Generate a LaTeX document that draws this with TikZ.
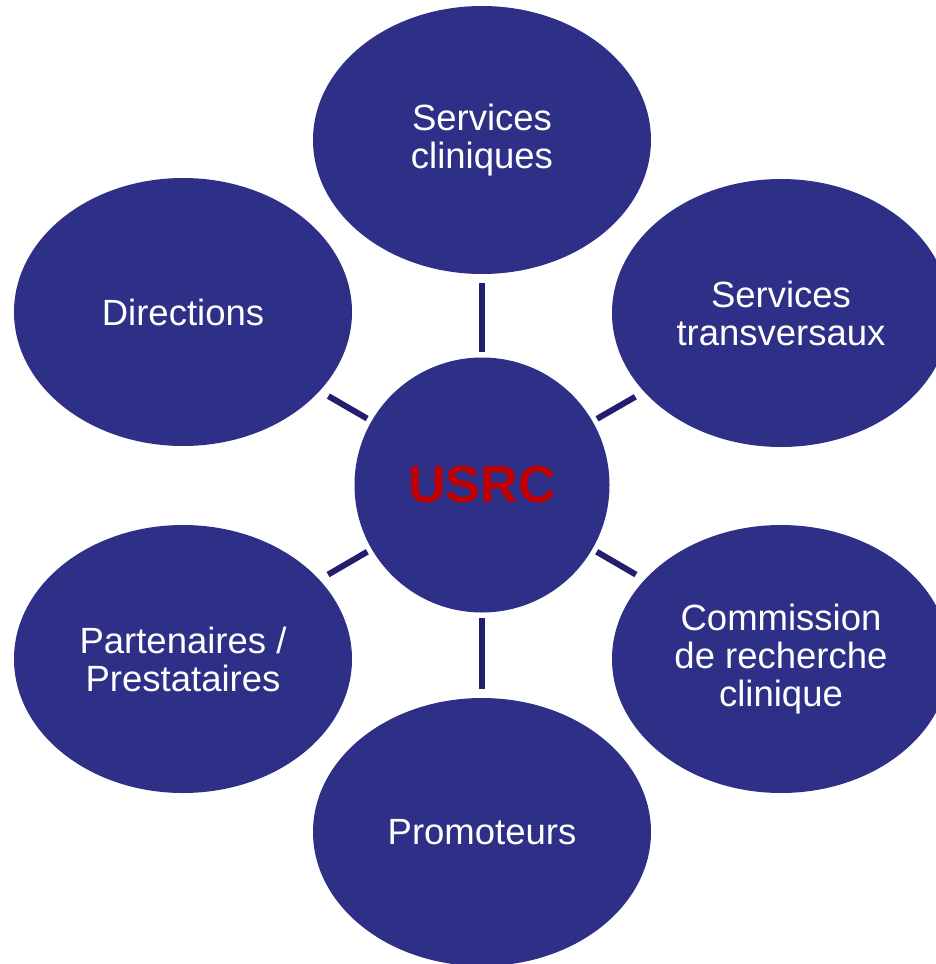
\documentclass[tikz,border=0pt]{standalone}
\usepackage{fontspec}
\setmainfont{Liberation Sans}
\usetikzlibrary{shapes.geometric}
\definecolor{navyfill}{HTML}{2E3087}
\definecolor{navyline}{HTML}{231F6E}
\definecolor{usrcred}{HTML}{C00000}
\tikzset{
  bubble/.style={ellipse, fill=navyfill, draw=none, inner sep=0pt,
    minimum width=338pt, minimum height=268pt, text=white, align=center,
    font=\fontsize{36.5pt}{38pt}\selectfont},
  hub/.style={circle, fill=navyfill, draw=none, inner sep=0pt,
    minimum size=255pt, text=usrcred, font=\fontsize{52pt}{54pt}\selectfont\bfseries},
  link/.style={draw=navyline, line width=6pt}
}
\begin{document}
\begin{tikzpicture}[x=1pt,y=-1pt]
\useasboundingbox (0,0) rectangle (936,964);
\begin{scope}
\clip (0,0) rectangle (936,964);
\node[hub] (c) at (482,485) {USRC};
\node[bubble] (t) at (482,140) {Services\\cliniques};
\node[bubble] (ru) at (781,313) {Services\\transversaux};
\node[bubble] (lu) at (183,312) {Directions};
\node[bubble] (ll) at (183,659) {Partenaires /\\Prestataires};
\node[bubble] (rl) at (781,659) {Commission\\de recherche\\clinique};
\node[bubble] (b) at (482,832) {Promoteurs};
\draw[link, shorten <=9pt, shorten >=5pt] (t) -- (c);
\draw[link, shorten <=9pt, shorten >=5pt] (b) -- (c);
\draw[link, shorten <=10pt, shorten >=5pt] (lu) -- (c);
\draw[link, shorten <=10pt, shorten >=5pt] (ru) -- (c);
\draw[link, shorten <=10pt, shorten >=5pt] (ll) -- (c);
\draw[link, shorten <=10pt, shorten >=5pt] (rl) -- (c);
\end{scope}
\end{tikzpicture}
\end{document}
